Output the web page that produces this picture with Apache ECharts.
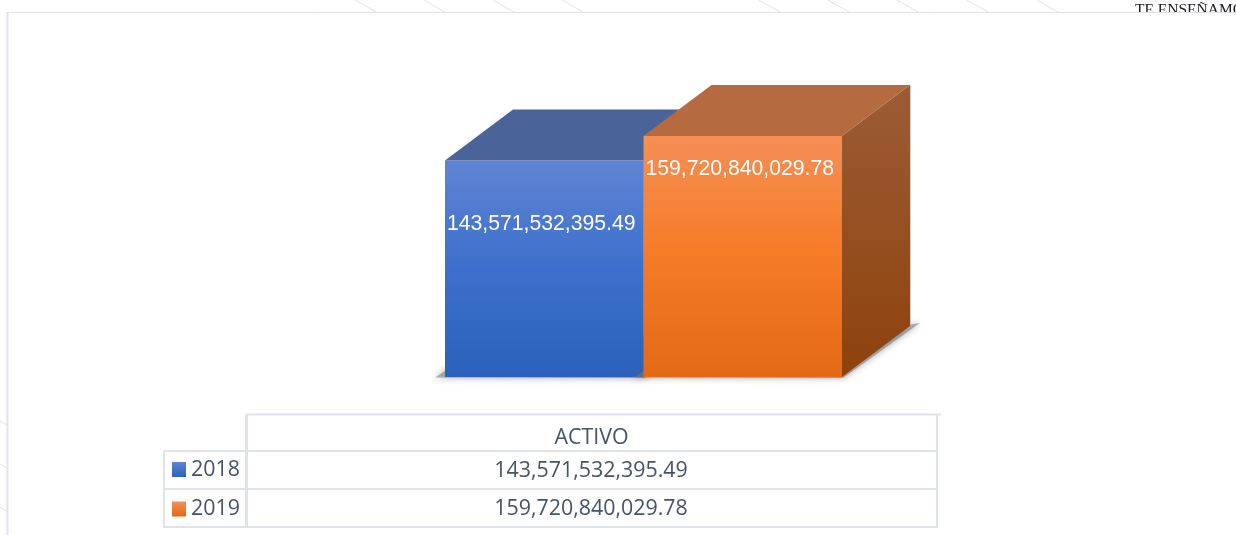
<!DOCTYPE html>
<html>
<head>
<meta charset="utf-8">
<style>
  html, body { margin: 0; padding: 0; background: #fff; }
  #main { width: 1236px; height: 535px; }
</style>
<script src="https://cdn.jsdelivr.net/npm/echarts@6/dist/echarts.min.js"></script>
</head>
<body>
<div id="main"></div>
<script>
const categories = ['ACTIVO']
const seriesNames = ['2018', '2019']
const values2018 = [143571532395.49]
const values2019 = [159720840029.78]
const seriesValues = [values2018, values2019]
const valueMax = 232000000000

const lineColor = '#DFE4EB'
const textColor = '#44546A'
const depthX = 68
const depthY = -51
const labelDrop = [64, 33]

// colores de cada caja: frente, tapa, lateral
const faces = [
  { front: ['#6084D2', '#3C70CC', '#2B61BA'], top: '#4A6499', side: ['#3F5E95', '#244F8F'] },
  { front: ['#F58F55', '#F57B26', '#E26916'], top: '#B66A40', side: ['#9C5C36', '#8E420C'] }
]

function vGrad (c) {
  const stops = c.map((color, i) => ({ offset: i / (c.length - 1), color }))
  return new echarts.graphic.LinearGradient(0, 0, 0, 1, stops)
}

function money (v) {
  return v.toLocaleString('en-US', { minimumFractionDigits: 2, maximumFractionDigits: 2 })
}

function renderBox (params, api) {
  const i = params.seriesIndex
  const f = faces[i]
  const band = api.size([1, 0])[0]
  const w = band / seriesNames.length
  const top = api.coord([api.value(0), api.value(1)])
  const base = api.coord([api.value(0), 0])
  const x0 = top[0] - band / 2 + i * w
  const x1 = x0 + w
  const y0 = top[1]
  const y1 = base[1]
  const shadow = { fill: 'rgba(120,120,120,0.55)', shadowBlur: 7, shadowColor: 'rgba(90,90,90,0.9)' }
  const children = [
    {
      type: 'polygon',
      shape: { points: [[x0 - 10, y1 + 0.5], [x0 + 6, y1 - 10], [x1 + depthX + 10, y1 + depthY - 3], [x1 + 1, y1 + 1]] },
      style: shadow
    },
    {
      type: 'rect',
      shape: { x: x0, y: y0, width: w, height: y1 - y0 },
      style: { fill: vGrad(f.front) }
    },
    {
      type: 'polygon',
      shape: { points: [[x0, y0], [x0 + depthX, y0 + depthY], [x1 + depthX, y0 + depthY], [x1, y0]] },
      style: { fill: f.top }
    },
    {
      type: 'polygon',
      shape: { points: [[x1, y0], [x1 + depthX, y0 + depthY], [x1 + depthX, y1 + depthY], [x1, y1]] },
      style: { fill: vGrad(f.side) }
    },
    {
      type: 'line',
      shape: { x1: x1 + depthX + 0.5, y1: y0 + depthY, x2: x1 + depthX + 0.5, y2: y1 + depthY },
      style: { stroke: 'rgba(200,170,150,0.6)', lineWidth: 1 }
    },
    {
      type: 'text',
      style: {
        x: (x0 + x1) / 2 - 3,
        y: y0 + labelDrop[i],
        text: money(api.value(1)),
        fill: '#fff',
        font: '21.2px "Liberation Sans"',
        align: 'center',
        verticalAlign: 'middle'
      }
    }
  ]
  return { type: 'group', children }
}

function hLine (x1, x2, y, width) {
  return { type: 'line', z: 5, shape: { x1, y1: y, x2, y2: y }, style: { stroke: lineColor, lineWidth: width } }
}
function vLine (x, y1, y2, width) {
  return { type: 'line', z: 5, shape: { x1: x, y1, x2: x, y2 }, style: { stroke: lineColor, lineWidth: width } }
}
function cell (x, y, text) {
  return {
    type: 'text', z: 6, x, y,
    style: { text, fill: textColor, font: '21.4px "Open Sans"', align: 'center', verticalAlign: 'middle' }
  }
}

// fondo de la pagina que asoma detras del panel
const backdrop = [376, 445, 514, 583, 780, 849, 918, 988, 1058].map(x => ({
  type: 'line', z: 0,
  shape: { x1: x - 21, y1: 0, x2: x, y2: 12 },
  style: { stroke: '#E3E3E3', lineWidth: 1 }
})).concat([425, 468, 511].map(y => ({
  type: 'line', z: 0,
  shape: { x1: 0, y1: y - 4, x2: 7, y2: y },
  style: { stroke: '#E3E3E3', lineWidth: 1 }
})))

const graphic = backdrop.concat([
  {
    type: 'text', z: 0, x: 1135, y: 18,
    style: { text: 'TE ENSEÑAMOS', fill: '#1a1a1a', font: '15.5px "Liberation Serif"', verticalAlign: 'bottom' }
  },
  { type: 'rect', z: 1, shape: { x: 7, y: 12, width: 1229, height: 523 }, style: { fill: '#fff' } },
  hLine(6, 1236, 12.5, 1),
  vLine(7.5, 12, 535, 2),
  hLine(246, 941, 414.5, 2),
  hLine(164, 937, 451, 2),
  hLine(164, 937, 489, 2),
  hLine(164, 938, 527, 2),
  vLine(164, 451, 528, 2),
  vLine(246.5, 414, 528, 3),
  vLine(937, 414, 528, 2),
  cell(591.5, 438, categories[0]),
  cell(591, 471, money(values2018[0])),
  cell(591, 509, money(values2019[0]))
])

const chart = echarts.init(document.getElementById('main'), null, { renderer: 'canvas' })
chart.setOption({
  animation: false,
  backgroundColor: '#fff',
  grid: { left: 445, width: 397, top: 27, height: 350 },
  xAxis: { type: 'category', data: categories, show: false },
  yAxis: { type: 'value', min: 0, max: valueMax, show: false },
  legend: {
    data: seriesNames.map((name, i) => ({ name, icon: 'rect', itemStyle: { color: vGrad([faces[i].front[0], faces[i].front[2]]) } })),
    orient: 'vertical',
    left: 172,
    top: 459,
    padding: 0,
    itemWidth: 14,
    itemHeight: 15,
    itemGap: 18.5,
    selectedMode: false,
    textStyle: { color: textColor, fontFamily: 'Open Sans', fontSize: 21.4, padding: [2, 0, 0, 0] }
  },
  graphic: { elements: graphic },
  series: seriesNames.map((name, i) => ({
    name,
    type: 'custom',
    z: 2,
    renderItem: renderBox,
    encode: { x: 0, y: 1 },
    data: seriesValues[i].map((v, k) => [k, v])
  }))
})
</script>
</body>
</html>
